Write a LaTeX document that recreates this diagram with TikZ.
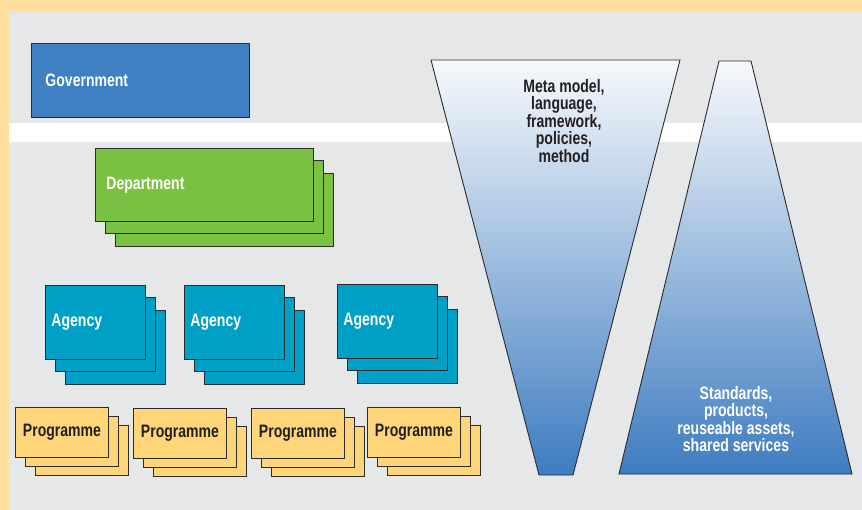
\documentclass[tikz,border=0pt]{standalone}
\usepackage{fontspec}
\newfontfamily\labelfont{Liberation Sans}[FakeStretch=0.78]
\usepackage{xcolor}
\definecolor{framebg}{HTML}{FFDF9E}
\definecolor{panelbg}{HTML}{E6E7E8}
\definecolor{govblue}{HTML}{3F80C3}
\definecolor{deptgreen}{HTML}{7AC143}
\definecolor{agencyteal}{HTML}{00A0C6}
\definecolor{progyellow}{HTML}{FED579}
\definecolor{edgegrey}{HTML}{2B2B2B}
\definecolor{inkdark}{HTML}{231F20}
\definecolor{wedgetop}{HTML}{F7F9FC}
\definecolor{wedgebottom}{HTML}{3E7CC0}
\usetikzlibrary{shadows}
\tikzset{
  orgbox/.style={draw=edgegrey,line width=0.9pt,rectangle,anchor=north west,inner sep=0pt,
    font=\labelfont\bfseries\fontsize{18}{18}\selectfont},
  leftbox/.style 2 args={orgbox,text=white,align=left,inner xsep=#1,text width=#2},
  cardstack/.style={copy shadow={shadow xshift=20pt,shadow yshift=-25pt},
    copy shadow={shadow xshift=10pt,shadow yshift=-12.5pt}},
  slipstack/.style={copy shadow={shadow xshift=20pt,shadow yshift=-18pt},
    copy shadow={shadow xshift=10pt,shadow yshift=-9pt}},
  govbox/.style={leftbox={14pt}{190pt},fill=govblue,minimum width=218pt,minimum height=74pt},
  deptbox/.style={leftbox={11pt}{196pt},fill=deptgreen,minimum width=218pt,minimum height=73pt,cardstack},
  agencybox/.style={leftbox={6pt}{88pt},fill=agencyteal,minimum width=100pt,minimum height=74pt,cardstack},
  progbox/.style={orgbox,text=inkdark,fill=progyellow,minimum width=93pt,minimum height=50pt,slipstack},
  wedge/.style={draw=edgegrey,line width=0.9pt,top color=wedgetop,bottom color=wedgebottom},
  wedgetext/.style={anchor=north,align=center,inner sep=0pt,font=\labelfont\bfseries\fontsize{18}{17.5}\selectfont}
}
\begin{document}
\begin{tikzpicture}[x=1pt,y=-1pt]
\useasboundingbox (0,0) rectangle (862,510);
\fill[framebg] (0,0) rectangle (862,510);
\fill[panelbg] (9,12) rectangle (862,510);
\fill[white] (9,123) rectangle (862,142);

\node[govbox] (gov) at (31,43) {Government};
\node[deptbox] (dept) at (95,148) {Department};
\node[agencybox] (agency1) at (45,285) {Agency};
\node[agencybox] (agency2) at (184,285) {Agency};
\node[agencybox] (agency3) at (337,284) {Agency};
\foreach \x/\y/\n in {15/407/1,133/408/2,251/408/3,367/407/4}
  \node[progbox] (prog\n) at (\x,\y) {Programme};

\shade[wedge] (431,60) -- (680,60) -- (573,475) -- (539,475) -- cycle;
\shade[wedge] (719,61) -- (751,61) -- (852,474) -- (619,474) -- cycle;
\node[wedgetext,text=inkdark] (meta) at (564,79) {Meta model,\\language,\\framework,\\policies,\\method};
\node[wedgetext,text=white] (assets) at (736,386) {Standards,\\products,\\reuseable assets,\\shared services};
\end{tikzpicture}
\end{document}
